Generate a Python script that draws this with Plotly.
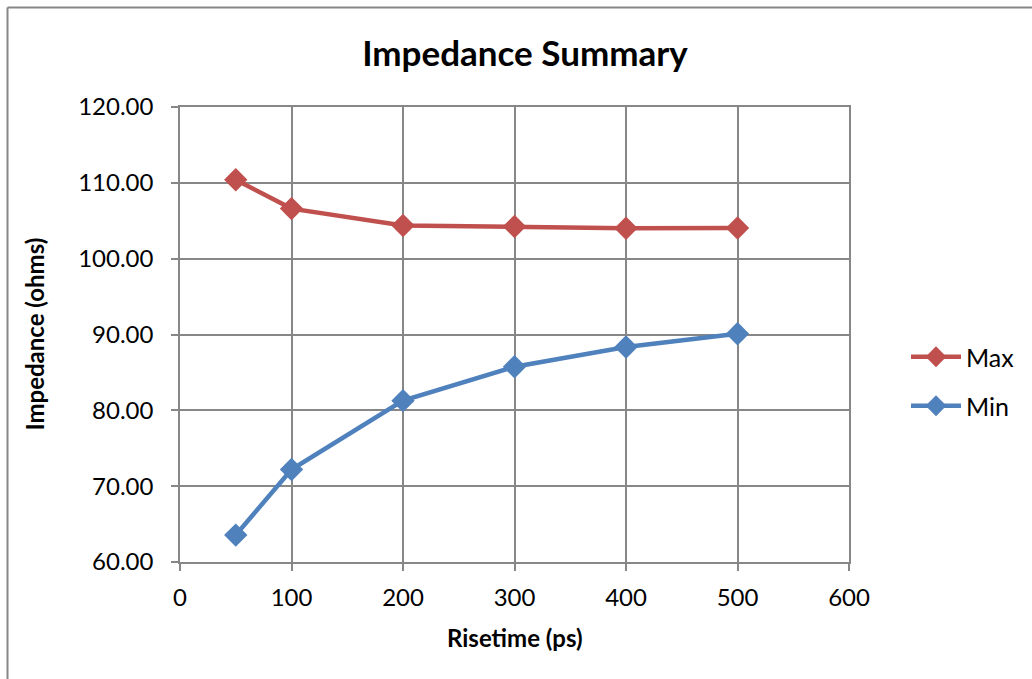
import plotly.graph_objects as go

# Rise times (ps) and measured impedance extremes (ohms)
risetime = [50, 100, 200, 300, 400, 500]
z_max = [110.4, 106.6, 104.37, 104.25, 104.02, 104.05]
z_min = [63.55, 72.2, 81.28, 85.75, 88.35, 90.1]

x_ticks = [0, 100, 200, 300, 400, 500, 600]
y_ticks = [60, 70, 80, 90, 100, 110, 120]

RED = "#C0504D"
BLUE = "#4F81BD"
GRID = "#878787"
FONT = "Lato, 'Open Sans', sans-serif"

W, H = 1032, 679
L, R, T, B = 180, 183, 107, 117

fig = go.Figure()
fig.add_trace(go.Scatter(
    x=risetime, y=z_max, name="Max", mode="lines+markers",
    line=dict(color=RED, width=4.5),
    marker=dict(symbol="diamond", size=18, color=RED),
    legend="legend",
))
fig.add_trace(go.Scatter(
    x=risetime, y=z_min, name="Min", mode="lines+markers",
    line=dict(color=BLUE, width=4.5),
    marker=dict(symbol="diamond", size=18, color=BLUE),
    legend="legend2",
))

axis_common = dict(
    showgrid=True, gridcolor=GRID, gridwidth=1.5,
    showline=True, linecolor=GRID, linewidth=1.5, mirror=True,
    ticks="outside", ticklen=7, tickwidth=1.5, tickcolor=GRID,
    tickfont=dict(family=FONT, size=24, color="#000000"),
    zeroline=False, fixedrange=True,
)

fig.update_layout(
    width=W, height=H,
    margin=dict(l=L, r=R, t=T, b=B),
    paper_bgcolor="white", plot_bgcolor="white",
    font=dict(family=FONT, color="#000000"),
    title=dict(
        text="<b>Impedance Summary</b>",
        x=525 / W, xref="container", xanchor="center",
        y=1 - 54 / H, yref="container", yanchor="middle",
        font=dict(family=FONT, size=35, color="#000000"),
    ),
    xaxis=dict(range=[0, 600], tickvals=x_ticks, ticklabelstandoff=6,
               **axis_common),
    yaxis=dict(range=[60, 120], tickvals=y_ticks, tickformat=".2f",
               ticklabelstandoff=13, **axis_common),
    legend=dict(
        x=(906 - L) / (W - L - R), xanchor="left",
        y=(H - B - 357) / (H - T - B), yanchor="middle",
        font=dict(family=FONT, size=25), bgcolor="rgba(0,0,0,0)",
        itemwidth=50,
    ),
    legend2=dict(
        x=(906 - L) / (W - L - R), xanchor="left",
        y=(H - B - 406) / (H - T - B), yanchor="middle",
        font=dict(family=FONT, size=25), bgcolor="rgba(0,0,0,0)",
        itemwidth=50,
    ),
    showlegend=True,
)

# Axis titles
fig.add_annotation(
    text="<b>Risetime (ps)</b>", xref="paper", yref="paper",
    x=0.5, y=-(637 - (H - B)) / (H - T - B),
    xanchor="center", yanchor="middle", showarrow=False,
    font=dict(family=FONT, size=24, color="#000000"),
)
fig.add_annotation(
    text="<b>Impedance (ohms)</b>", xref="paper", yref="paper",
    x=-(L - 34) / (W - L - R), y=0.5, textangle=-90,
    xanchor="center", yanchor="middle", showarrow=False,
    font=dict(family=FONT, size=24, color="#000000"),
)

# Chart frame (top and left edges)
pw, ph = W - L - R, H - T - B
x_left = -(L - 7.5) / pw
y_top = 1 + (T - 7.5) / ph
fig.add_shape(type="line", xref="paper", yref="paper",
              x0=x_left, x1=1 + R / pw + 0.01, y0=y_top, y1=y_top,
              line=dict(color=GRID, width=2))
fig.add_shape(type="line", xref="paper", yref="paper",
              x0=x_left, x1=x_left, y0=y_top, y1=-B / ph - 0.01,
              line=dict(color=GRID, width=2))

fig.write_html("out.html")
